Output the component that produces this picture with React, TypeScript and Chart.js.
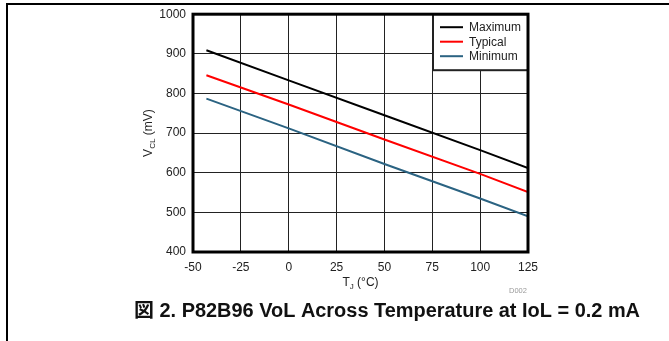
import React, { useEffect, useRef } from "react";
import { Chart, registerables } from "chart.js";

Chart.register(...registerables);

const temps = [-43, 0, 50, 100, 125];
const maximum = [909, 833, 745, 657, 612];
const typical = [846, 772, 684, 597, 551];
const minimum = [787, 712, 622, 535, 490];
const seriesNames = ["Maximum", "Typical", "Minimum"];
const seriesColors = ["#000000", "#ff0000", "#2b6382"];
const xTicks = [-50, -25, 0, 25, 50, 75, 100, 125];
const yTicks = [400, 500, 600, 700, 800, 900, 1000];
const caption = "図 2. P82B96 VoL Across Temperature at IoL = 0.2 mA";

const FONT = '"Liberation Sans", Arial, "Noto Sans CJK JP", sans-serif';

export default function App() {
  const ref = useRef<HTMLCanvasElement>(null);
  useEffect(() => {
    const canvas = ref.current!;
    const mk = (vals: number[]) => temps.map((t, i) => ({ x: t, y: vals[i] }));
    const all = [maximum, typical, minimum];
    const overlay = {
      id: "overlay",
      afterDatasetsDraw(chart: any) {
        const ctx = chart.ctx as CanvasRenderingContext2D;
        const a = chart.chartArea;
        ctx.save();
        // legend box
        const lx = 433, ly = a.top, lw = a.right - 433, lh = 56;
        ctx.fillStyle = "#fff";
        ctx.fillRect(lx, ly, lw, lh);
        ctx.strokeStyle = "#222";
        ctx.lineWidth = 2;
        ctx.strokeRect(lx, ly, lw, lh);
        ctx.font = "12px " + FONT;
        ctx.textBaseline = "middle";
        ctx.textAlign = "left";
        seriesNames.forEach((n, i) => {
          const y = ly + 13 + i * 14.5;
          ctx.strokeStyle = seriesColors[i];
          ctx.lineWidth = 2;
          ctx.beginPath();
          ctx.moveTo(440, y);
          ctx.lineTo(463, y);
          ctx.stroke();
          ctx.fillStyle = "#222";
          ctx.fillText(n, 469, y + 0.5);
        });
        // plot frame
        ctx.strokeStyle = "#000";
        ctx.lineWidth = 3;
        ctx.strokeRect(a.left, a.top, a.right - a.left, a.bottom - a.top);
        // y title
        ctx.fillStyle = "#222";
        ctx.save();
        ctx.translate(148, (a.top + a.bottom) / 2);
        ctx.rotate(-Math.PI / 2);
        const p1 = "V", p2 = "CL", p3 = " (mV)";
        ctx.font = "12px " + FONT;
        const w1 = ctx.measureText(p1).width;
        const w3 = ctx.measureText(p3).width;
        ctx.font = "8px " + FONT;
        const w2 = ctx.measureText(p2).width;
        let sx = -(w1 + w2 + w3) / 2;
        ctx.textBaseline = "alphabetic";
        ctx.font = "12px " + FONT;
        ctx.fillText(p1, sx, 4);
        sx += w1;
        ctx.font = "8px " + FONT;
        ctx.fillText(p2, sx, 7);
        sx += w2;
        ctx.font = "12px " + FONT;
        ctx.fillText(p3, sx, 4);
        ctx.restore();
        // x title
        {
          const q1 = "T", q2 = "J", q3 = " (°C)";
          ctx.font = "12px " + FONT;
          const v1 = ctx.measureText(q1).width;
          const v3 = ctx.measureText(q3).width;
          ctx.font = "8px " + FONT;
          const v2 = ctx.measureText(q2).width;
          let x = (a.left + a.right) / 2 - (v1 + v2 + v3) / 2;
          const by = 286;
          ctx.textBaseline = "alphabetic";
          ctx.font = "12px " + FONT;
          ctx.fillText(q1, x, by);
          x += v1;
          ctx.font = "8px " + FONT;
          ctx.fillText(q2, x, by + 2.5);
          x += v2;
          ctx.font = "12px " + FONT;
          ctx.fillText(q3, x, by);
        }
        // D002
        ctx.fillStyle = "#999";
        ctx.font = "7.5px " + FONT;
        ctx.textAlign = "center";
        ctx.fillText("D002", 518, 293);
        // caption
        ctx.fillStyle = "#111";
        ctx.font = "bold 19.5px " + FONT;
        ctx.textAlign = "left";
        const cw = ctx.measureText(caption).width;
        const target = 506;
        ctx.save();
        ctx.translate(134, 317);
        ctx.scale(target / cw, 1);
        ctx.fillText(caption, 0, 0);
        ctx.restore();
        // outer frame
        ctx.strokeStyle = "#000";
        ctx.lineWidth = 2;
        ctx.beginPath();
        ctx.moveTo(7, 341);
        ctx.lineTo(7, 4);
        ctx.lineTo(669, 4);
        ctx.stroke();
        ctx.restore();
      },
    };
    const chart = new Chart(canvas, {
      type: "line",
      data: {
        datasets: all.map((vals, i) => ({
          label: seriesNames[i],
          data: mk(vals),
          borderColor: seriesColors[i],
          backgroundColor: seriesColors[i],
          borderWidth: 2,
          pointRadius: 0,
          tension: 0,
        })),
      },
      options: {
        responsive: false,
        animation: false,
        devicePixelRatio: 1,
        layout: { padding: { left: 0, top: 14, right: 141, bottom: 0 } },
        plugins: { legend: { display: false }, tooltip: { enabled: false } },
        scales: {
          x: {
            type: "linear",
            min: -50,
            max: 125,
            afterFit: (s: any) => {
              s.height = 89;
            },
            afterBuildTicks: (s: any) => {
              s.ticks = xTicks.map((v) => ({ value: v }));
            },
            ticks: {
              padding: 8,
              color: "#222",
              font: { family: FONT, size: 12 },
              maxRotation: 0,
              callback: (v: any) => String(v),
            },
            grid: { color: "#222", lineWidth: 1, drawTicks: false },
            border: { display: false },
          },
          y: {
            type: "linear",
            min: 400,
            max: 1000,
            afterFit: (s: any) => {
              s.width = 193;
            },
            afterBuildTicks: (s: any) => {
              s.ticks = yTicks.map((v) => ({ value: v }));
            },
            ticks: {
              padding: 7,
              color: "#222",
              font: { family: FONT, size: 12 },
              callback: (v: any) => String(v),
            },
            grid: { color: "#222", lineWidth: 1, drawTicks: false },
            border: { display: false },
          },
        },
      },
      plugins: [overlay],
    });
    return () => chart.destroy();
  }, []);
  return (
    <div style={{ position: "absolute", left: 0, top: 0, width: 669, height: 341, background: "#fff" }}>
      <canvas ref={ref} width={669} height={341} style={{ display: "block" }} />
    </div>
  );
}
